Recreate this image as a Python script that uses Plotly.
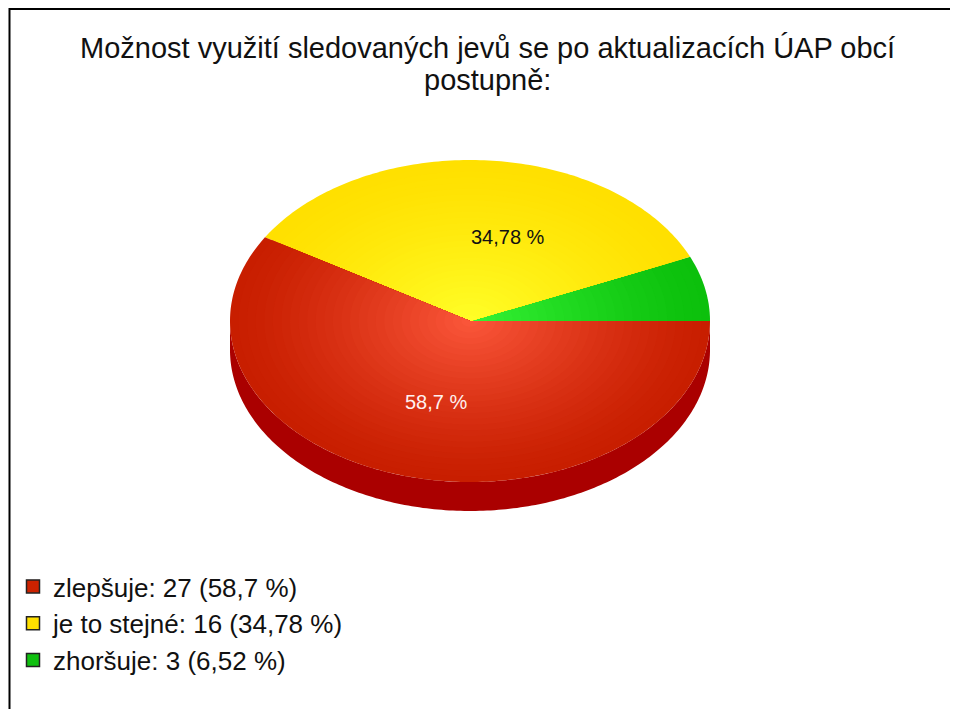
import numpy as np
import plotly.graph_objects as go

# ---- data ----
title_lines = ["Možnost využití sledovaných jevů se po aktualizacích ÚAP obcí", "postupně:"]
categories = ["zlepšuje", "je to stejné", "zhoršuje"]
counts = [27, 16, 3]
percent_labels = ["58,7 %", "34,78 %", "6,52 %"]
show_label = [True, True, False]

# ---- style ----
edge_cols = [(200, 30, 0), (255, 224, 0), (12, 192, 12)]
center_cols = [(252, 88, 60), (255, 255, 40), (55, 245, 55)]
legend_cols = ["#cc2200", "#ffe000", "#10c010"]
label_cols = ["#fff0f0", "#111111", "#111111"]
side_col = "#aa0000"
FONT = "Liberation Sans, Arial, sans-serif"

W, H = 958, 709
OFF = 8  # page body margin: figure origin sits 8px into the window
cx, cy = 470.0, 321.0
rx, ry = 240.0, 161.0
depth = 29.0
N_LAYERS = 28


def px(sx):
    return (sx - OFF) / W


def py(sy):
    return 1 - (sy - OFF) / H


total = float(sum(counts))
fracs = [c / total for c in counts]

# slices start at 3 o'clock and go counter-clockwise (order: zhoršuje, je to stejné, zlepšuje)
order = [2, 1, 0]
angles = {}
a0 = 0.0
for i in order:
    a1 = a0 + fracs[i] * 2 * np.pi
    angles[i] = (a0, a1)
    a0 = a1


def wedge(t0, t1, s):
    n = max(4, int(np.ceil((t1 - t0) / (2 * np.pi) * 360)))
    t = np.linspace(t0, t1, n)
    x = np.concatenate([[cx], cx + s * rx * np.cos(t), [cx]])
    y = np.concatenate([[cy], cy - s * ry * np.sin(t), [cy]])
    return x, y


def mix(c0, c1, f):
    return "rgb(%d,%d,%d)" % tuple(int(round(c0[k] + (c1[k] - c0[k]) * f)) for k in range(3))


fig = go.Figure()

# 3D side (front half of the rim)
t = np.linspace(np.pi, 2 * np.pi, 200)
sx = np.concatenate([cx + rx * np.cos(t), (cx + rx * np.cos(t))[::-1]])
sy = np.concatenate([cy - ry * np.sin(t), (cy - ry * np.sin(t) + depth)[::-1]])
fig.add_trace(go.Scatter(x=sx, y=sy, fill="toself", mode="none", fillcolor=side_col,
                         showlegend=False, hoverinfo="skip"))

# top face slices with radial shading
for i in order:
    t0, t1 = angles[i]
    for L in range(N_LAYERS):
        s = 1.0 - L / N_LAYERS
        f = (1.0 - s) ** 1.3
        x, y = wedge(t0, t1, s)
        fig.add_trace(go.Scatter(x=x, y=y, fill="toself", mode="none",
                                 fillcolor=mix(edge_cols[i], center_cols[i], f),
                                 showlegend=False, hoverinfo="skip"))

# slice labels
annotations = []
for i in range(len(categories)):
    if not show_label[i]:
        continue
    t0, t1 = angles[i]
    mid = (t0 + t1) / 2
    lx = cx + 0.52 * rx * np.cos(mid)
    ly = cy - 0.52 * ry * np.sin(mid)
    annotations.append(dict(x=lx, y=ly, text=percent_labels[i], showarrow=False,
                            xanchor="left" if np.cos(mid) > 0 else "center",
                            xshift=-10 if np.cos(mid) > 0 else 0,
                            font=dict(family=FONT, size=20, color=label_cols[i])))

# title (two lines, tight spacing)
for k, (line, ty) in enumerate(zip(title_lines, [48, 80])):
    annotations.append(dict(xref="paper", yref="paper", x=px(487), y=py(ty), text=line,
                            showarrow=False, xanchor="center", yanchor="middle",
                            font=dict(family=FONT, size=29, color="#111111")))

# legend entries
for i in range(len(categories)):
    fig.add_trace(go.Scatter(x=[None], y=[None], mode="markers",
                             name=f"{categories[i]}: {counts[i]} ({percent_labels[i]})",
                             marker=dict(symbol="square", size=13, color=legend_cols[i],
                                         line=dict(color="#222222", width=1.5))))

fig.update_layout(
    width=W, height=H,
    margin=dict(l=0, r=0, t=0, b=0),
    paper_bgcolor="white", plot_bgcolor="white",
    xaxis=dict(range=[OFF, OFF + W], visible=False, fixedrange=True),
    yaxis=dict(range=[OFF + H, OFF], visible=False, fixedrange=True),
    annotations=annotations,
    legend=dict(x=px(13), y=py(563), xanchor="left", yanchor="top",
                font=dict(family=FONT, size=26, color="#111111"),
                bgcolor="rgba(0,0,0,0)", itemwidth=30, tracegroupgap=0),
    shapes=[
        dict(type="line", xref="paper", yref="paper", x0=px(9), x1=1, y0=py(9), y1=py(9),
             line=dict(color="black", width=2)),
        dict(type="line", xref="paper", yref="paper", x0=px(9.5), x1=px(9.5), y0=py(8), y1=0,
             line=dict(color="black", width=2)),
    ],
    showlegend=True,
)

fig.write_html("out.html")
